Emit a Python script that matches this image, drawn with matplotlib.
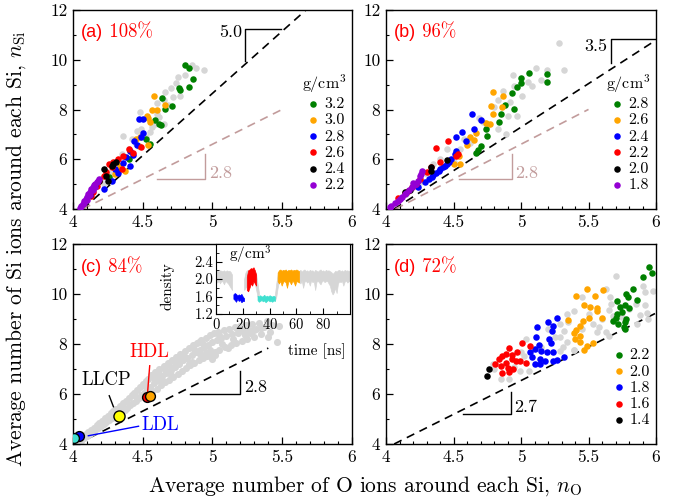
import matplotlib
matplotlib.use('Agg')
import matplotlib.pyplot as plt
from matplotlib.ticker import MultipleLocator, FuncFormatter

plt.rcParams['font.family'] = ['cmr10', 'DejaVu Serif']
plt.rcParams['mathtext.fontset'] = 'cm'
plt.rcParams['axes.formatter.use_mathtext'] = True
plt.rcParams['axes.unicode_minus'] = False

# ---------------- colours ----------------
GREEN, ORANGE, BLUE, RED, BLACK, PURPLE = '#008000', '#ffa500', '#0000ff', '#ff0000', '#000000', '#9400d3'
GRAY = '#d6d6d6'
CYAN = '#40e0d0'
YELLOW = '#ffff00'
BROWN = '#c29c9c'

# ---------------- panel (a) ----------------
a_gray_x = [4.94, 4.88, 4.85, 4.74, 4.70, 4.77, 4.72, 4.66, 4.65, 4.60, 4.48, 4.49, 4.36, 4.46, 4.42, 4.59, 4.65, 4.60,
            4.55, 4.52, 4.40, 4.35, 4.30, 4.25, 4.20, 4.15, 4.10, 4.68, 4.62, 4.57, 4.45, 4.33, 4.28, 4.22, 4.75, 4.80]
a_gray_y = [9.60, 9.67, 9.80, 9.07, 8.87, 8.53, 8.49, 8.71, 8.40, 8.27, 7.89, 7.20, 6.93, 7.13, 6.80, 7.40, 7.40, 7.80,
            7.10, 6.90, 6.40, 6.20, 5.90, 5.50, 5.20, 4.90, 4.50, 8.20, 7.70, 7.30, 6.60, 5.70, 5.40, 5.00, 9.30, 9.40]
a_labels = ['3.2', '3.0', '2.8', '2.6', '2.4', '2.2']
a_x_32 = [4.80, 4.83, 4.86, 4.83, 4.76, 4.77, 4.64, 4.71, 4.66, 4.59, 4.62, 4.63, 4.52, 4.55, 4.40, 4.31, 4.26]
a_y_32 = [9.79, 9.67, 9.24, 8.91, 8.87, 8.77, 8.47, 8.16, 8.03, 7.57, 7.40, 7.36, 6.83, 6.60, 6.00, 5.55, 5.30]
a_x_30 = [4.58, 4.66, 4.60, 4.57, 4.53, 4.55, 4.54, 4.48, 4.54, 4.47, 4.41, 4.37, 4.34, 4.30, 4.45]
a_y_30 = [8.56, 8.20, 8.00, 7.97, 7.73, 7.50, 7.64, 6.89, 6.57, 6.53, 6.33, 5.53, 5.73, 5.40, 6.80]
a_x_28 = [4.47, 4.50, 4.50, 4.49, 4.44, 4.46, 4.41, 4.43, 4.41, 4.36, 4.32, 4.28, 4.22, 4.38, 4.30]
a_y_28 = [7.60, 7.60, 7.07, 6.91, 6.73, 6.56, 6.33, 6.16, 5.73, 5.84, 5.44, 5.13, 4.80, 6.10, 5.60]
a_x_26 = [4.49, 4.43, 4.40, 4.36, 4.32, 4.29, 4.28, 4.35, 4.24, 4.22, 4.19, 4.17, 4.14, 4.13, 4.26]
a_y_26 = [6.49, 6.27, 6.43, 6.13, 6.00, 5.87, 5.67, 5.60, 5.47, 5.33, 5.13, 4.93, 4.67, 4.53, 5.80]
a_x_24 = [4.22, 4.28, 4.29, 4.24, 4.25, 4.19, 4.31, 4.16, 4.12]
a_y_24 = [5.60, 5.73, 5.80, 5.33, 5.13, 5.13, 5.87, 4.95, 4.55]
a_x_22 = [4.05, 4.06, 4.07, 4.08, 4.09, 4.10, 4.11, 4.12, 4.13, 4.14, 4.15, 4.16, 4.17, 4.18, 4.19, 4.08, 4.10, 4.12, 4.14, 4.16]
a_y_22 = [4.05, 4.13, 4.22, 4.33, 4.40, 4.47, 4.60, 4.68, 4.80, 4.87, 4.95, 5.00, 5.10, 5.13, 5.20, 4.25, 4.38, 4.55, 4.75, 4.90]

# ---------------- panel (b) ----------------
b_gray_x = [5.28, 5.32, 5.11, 5.19, 5.08, 5.01, 4.94, 4.95, 4.87, 4.83, 4.90, 4.97, 4.83, 4.89, 4.75, 4.69, 4.62, 4.50,
            4.55, 5.15, 5.05, 4.92, 4.80, 4.72, 4.58, 4.45, 4.40, 4.35, 4.30, 4.25, 4.20, 4.15, 4.10]
b_gray_y = [10.67, 9.60, 9.67, 9.60, 8.93, 8.53, 9.40, 8.96, 8.73, 8.40, 7.73, 7.73, 7.20, 7.00, 7.33, 7.67, 6.67, 5.87,
            6.40, 9.20, 9.10, 8.30, 8.10, 7.50, 6.80, 6.40, 6.00, 5.80, 5.40, 5.10, 4.90, 4.60, 4.40]
b_labels = ['2.8', '2.6', '2.4', '2.2', '2.0', '1.8']
b_x_28 = [5.06, 5.00, 5.00, 4.97, 4.93, 5.19, 5.19, 4.88, 4.95, 4.85, 4.84, 4.74, 4.75, 4.70, 4.68, 4.67]
b_y_28 = [9.47, 9.27, 9.07, 8.91, 8.67, 9.44, 9.09, 8.20, 8.03, 7.80, 7.49, 7.20, 6.93, 6.53, 6.37, 6.27]
b_x_26 = [4.79, 4.87, 4.78, 4.86, 4.79, 4.74, 4.77, 4.67, 4.65, 4.60, 4.54, 4.55, 4.50, 4.62]
b_y_26 = [8.69, 8.53, 8.16, 8.11, 7.80, 7.47, 7.43, 7.07, 6.77, 6.57, 6.13, 5.80, 5.80, 6.90]
b_x_24 = [4.64, 4.70, 4.65, 4.56, 4.52, 4.59, 4.52, 4.51, 4.44, 4.42, 4.39, 4.34, 4.29, 4.24, 4.47, 4.37, 4.32, 4.40, 4.45, 4.35, 4.48]
b_y_24 = [7.80, 7.57, 7.20, 7.09, 6.89, 6.73, 6.33, 6.20, 5.73, 5.67, 5.53, 5.27, 5.07, 4.87, 5.90, 5.45, 5.20, 5.60, 5.80, 5.35, 6.00]
b_x_22 = [4.46, 4.37, 4.53, 4.52, 4.40, 4.30, 4.25, 4.19, 4.16, 4.14, 4.09, 4.33, 4.22]
b_y_22 = [6.73, 6.47, 6.23, 6.13, 5.87, 5.47, 5.20, 4.87, 4.73, 4.64, 4.43, 5.70, 5.00]
b_x_20 = [4.45, 4.33, 4.33, 4.18, 4.14]
b_y_20 = [5.97, 5.67, 5.53, 4.77, 4.67]
b_x_18 = [4.27, 4.25, 4.24, 4.22, 4.19, 4.17, 4.14, 4.12, 4.09, 4.07, 4.04, 4.03, 4.21, 4.15, 4.10, 4.26, 4.20]
b_y_18 = [5.53, 5.33, 5.13, 5.00, 4.87, 4.77, 4.60, 4.47, 4.33, 4.24, 4.13, 4.07, 4.95, 4.65, 4.40, 5.40, 5.05]

# ---------------- panel (c) ----------------
c_gray_x = [4.03, 4.04, 4.05, 4.06, 4.07, 4.08, 4.09, 4.10, 4.11, 4.12, 4.13, 4.14, 4.15, 4.16, 4.17, 4.18, 4.19,
            4.20, 4.21, 4.22, 4.23, 4.24, 4.25, 4.26, 4.27, 4.28, 4.29, 4.30, 4.31, 4.32, 4.34, 4.35, 4.36, 4.37,
            4.38, 4.39, 4.40, 4.41, 4.42, 4.43, 4.44, 4.45, 4.46, 4.47, 4.48, 4.49, 4.50, 4.51, 4.52, 4.53, 4.54,
            4.55, 4.56, 4.57, 4.58, 4.59, 4.60, 4.61, 4.62, 4.63, 4.64, 4.65, 4.66, 4.67, 4.68, 4.69, 4.70, 4.71,
            4.72, 4.73, 4.74, 4.75, 4.76, 4.77, 4.78, 4.79, 4.80, 4.81, 4.82, 4.83, 4.84, 4.85, 4.86, 4.87, 4.88,
            4.89, 4.90, 4.91, 4.92, 4.93, 4.94, 4.95, 4.96, 4.97, 4.98, 4.99, 5.00, 5.01, 5.02, 5.03, 5.04, 5.05,
            5.06, 5.08, 5.09, 5.10, 5.12, 5.13, 5.14, 5.16, 5.17, 5.18, 5.20, 5.21, 5.22, 5.24, 5.25, 5.26, 5.28,
            5.30, 5.31, 5.33, 5.35, 5.37, 5.39, 5.41, 5.43, 5.46, 5.48,
            4.58, 4.66, 4.73, 4.80, 4.87, 4.93, 5.00, 5.07, 5.15, 5.23, 4.70, 4.85, 4.95, 5.05, 5.18, 5.30, 4.62,
            4.76, 4.90, 5.11, 4.52, 4.44, 4.36, 4.28, 4.98, 5.02, 4.91, 4.83, 4.69, 4.64, 5.27, 5.35, 5.40, 4.55]
c_gray_y = [4.08, 4.15, 4.22, 4.12, 4.30, 4.24, 4.38, 4.31, 4.47, 4.40, 4.55, 4.48, 4.63, 4.56, 4.74, 4.62, 4.83,
            4.70, 4.91, 4.78, 5.02, 4.88, 5.12, 4.95, 5.22, 5.05, 5.33, 5.12, 5.41, 5.20, 5.50, 5.28, 5.62, 5.36,
            5.70, 5.45, 5.82, 5.55, 5.95, 5.63, 6.05, 5.72, 6.15, 5.85, 6.28, 5.95, 6.40, 6.05, 6.52, 6.20, 6.62,
            6.30, 6.75, 6.10, 6.45, 6.88, 6.22, 6.58, 7.00, 6.35, 6.72, 7.12, 6.48, 6.85, 7.25, 6.58, 6.98, 7.38,
            6.70, 7.10, 7.50, 6.82, 7.22, 7.62, 6.92, 7.35, 7.72, 7.05, 7.45, 7.85, 7.15, 7.58, 7.95, 7.25, 7.68,
            8.05, 7.35, 7.78, 8.15, 7.45, 7.88, 8.25, 7.52, 7.98, 8.35, 7.62, 8.08, 8.45, 7.70, 8.15, 8.50, 7.78,
            8.25, 8.58, 7.88, 8.32, 8.62, 7.95, 8.40, 8.68, 8.05, 8.45, 8.72, 8.12, 8.52, 8.78, 8.20, 8.58, 8.82,
            8.30, 8.62, 8.85, 8.40, 8.70, 8.92, 8.50, 8.78, 8.08, 8.72,
            6.65, 6.95, 7.30, 7.50, 7.80, 8.00, 7.40, 8.00, 8.20, 8.35, 6.75, 7.30, 7.65, 8.35, 8.55, 8.55, 6.80,
            7.40, 8.10, 7.85, 6.30, 5.95, 5.45, 5.20, 7.75, 7.55, 7.60, 7.20, 7.15, 6.55, 8.45, 8.65, 8.30, 6.10]
c_state_x = [4.04, 4.01, 4.33, 4.53, 4.55]
c_state_y = [4.30, 4.23, 5.13, 5.89, 5.93]
c_state_colors = [BLUE, CYAN, YELLOW, RED, ORANGE]

# inset time series (time in ns, density band lower/upper edge)
ts_gray_t1 = [0, 1, 2, 3, 4, 5, 6, 7, 8, 9, 10, 11, 12]
ts_gray_hi1 = [2.18, 2.20, 2.17, 2.20, 2.19, 2.18, 2.20, 2.17, 2.20, 2.18, 2.19, 2.16, 2.10]
ts_gray_lo1 = [1.95, 1.92, 1.97, 1.90, 1.96, 1.94, 1.88, 1.96, 1.93, 1.90, 1.85, 1.80, 1.75]
ts_gray_t2 = [21, 22, 23, 24]
ts_gray_hi2 = [2.00, 2.15, 2.20, 2.20]
ts_gray_lo2 = [1.75, 1.80, 1.85, 1.90]
ts_gray_t3 = [29, 30, 31, 32]
ts_gray_hi3 = [2.20, 2.10, 1.90, 1.70]
ts_gray_lo3 = [1.90, 1.75, 1.60, 1.55]
ts_gray_t4 = [44, 45, 46, 47]
ts_gray_hi4 = [1.65, 1.90, 2.10, 2.20]
ts_gray_lo4 = [1.50, 1.60, 1.80, 1.95]
ts_gray_t5 = [62, 63, 64, 65, 66, 67, 68, 69, 70, 71, 72, 73, 74, 75, 76, 77, 78, 79, 80, 81, 82, 83, 84, 85, 86,
              87, 88, 89, 90, 91, 92, 93, 94, 95, 96, 97, 98, 99, 100]
ts_gray_hi5 = [2.18, 2.21, 2.17, 2.20, 2.22, 2.18, 2.20, 2.17, 2.21, 2.19, 2.20, 2.16, 2.21, 2.19, 2.17, 2.20, 2.22,
               2.18, 2.20, 2.17, 2.21, 2.19, 2.20, 2.18, 2.16, 2.12, 2.15, 2.19, 2.17, 2.20, 2.21, 2.18, 2.20, 2.17,
               2.21, 2.19, 2.20, 2.18, 2.20]
ts_gray_lo5 = [1.95, 1.90, 1.97, 1.80, 1.94, 1.96, 1.92, 1.95, 1.85, 1.97, 1.93, 1.95, 1.75, 1.94, 1.96, 1.92, 1.88,
               1.95, 1.97, 1.93, 1.95, 1.96, 1.90, 1.85, 1.72, 1.65, 1.70, 1.80, 1.68, 1.90, 1.95, 1.93, 1.96, 1.85,
               1.94, 1.97, 1.92, 1.95, 1.96]
ts_blue_t = [13, 14, 15, 16, 17, 18, 19, 20, 21]
ts_blue_hi = [1.65, 1.68, 1.66, 1.62, 1.65, 1.63, 1.66, 1.60, 1.56]
ts_blue_lo = [1.55, 1.52, 1.48, 1.55, 1.50, 1.52, 1.47, 1.50, 1.50]
ts_red_t = [23, 24, 25, 26, 27, 28, 29, 30]
ts_red_hi = [2.05, 2.20, 2.22, 2.25, 2.24, 2.27, 2.20, 2.10]
ts_red_lo = [1.75, 1.72, 1.80, 1.90, 1.85, 1.95, 1.90, 1.85]
ts_cyan_t = [31, 32, 33, 34, 35, 36, 37, 38, 39, 40, 41, 42, 43, 44]
ts_cyan_hi = [1.62, 1.60, 1.63, 1.60, 1.61, 1.64, 1.60, 1.62, 1.60, 1.63, 1.61, 1.60, 1.62, 1.60]
ts_cyan_lo = [1.52, 1.48, 1.50, 1.52, 1.49, 1.51, 1.47, 1.50, 1.52, 1.49, 1.50, 1.48, 1.51, 1.50]
ts_orange_t = [46, 47, 48, 49, 50, 51, 52, 53, 54, 55, 56, 57, 58, 59, 60, 61, 62]
ts_orange_hi = [2.15, 2.20, 2.22, 2.19, 2.21, 2.20, 2.22, 2.18, 2.21, 2.20, 2.22, 2.19, 2.21, 2.20, 2.22, 2.20, 2.18]
ts_orange_lo = [1.95, 1.90, 1.96, 1.85, 1.93, 1.96, 1.92, 1.80, 1.95, 1.94, 1.88, 1.96, 1.93, 1.85, 1.95, 1.94, 1.92]

# ---------------- panel (d) ----------------
d_gray_x = [5.70, 5.63, 5.98, 5.90, 5.92, 5.92, 5.93, 5.88, 5.94, 5.66, 5.67, 5.65, 5.68, 5.63, 5.58, 5.53, 5.56,
            5.45, 5.39, 5.34, 5.29, 5.32, 5.29, 5.34, 5.31, 5.39, 5.04, 4.99, 5.06, 4.91, 4.85, 4.80, 4.79, 5.02,
            5.29, 5.39, 5.65, 5.86, 5.60, 5.50, 5.25, 5.15, 5.00, 4.95, 5.85, 5.80, 5.75, 5.45, 5.35, 5.20]
d_gray_y = [10.71, 10.20, 10.13, 10.33, 10.07, 9.57, 9.23, 9.17, 9.00, 9.87, 9.60, 9.36, 9.13, 8.47, 8.67, 8.80, 8.47,
            9.87, 9.33, 9.20, 8.80, 8.53, 8.27, 8.07, 7.87, 7.76, 8.20, 6.93, 6.93, 6.60, 6.60, 7.00, 7.20, 7.53,
            7.73, 7.76, 8.33, 8.80, 9.00, 9.20, 8.30, 7.90, 7.70, 7.10, 9.60, 9.40, 9.10, 8.60, 8.90, 8.60]
d_labels = ['2.2', '2.0', '1.8', '1.6', '1.4']
d_x_22 = [5.95, 5.97, 5.90, 5.83, 5.78, 5.79, 5.86, 5.71, 5.77, 5.73, 5.80, 5.75, 5.71, 5.70, 5.78, 5.77, 5.72, 5.76, 5.77, 5.68]
d_y_22 = [11.09, 10.83, 10.67, 10.20, 10.00, 9.89, 9.76, 9.71, 9.57, 9.49, 9.44, 9.27, 9.20, 9.04, 9.00, 8.87, 8.80, 8.67, 8.60, 8.93]
d_x_20 = [5.49, 5.61, 5.55, 5.41, 5.47, 5.51, 5.56, 5.56, 5.60, 5.50, 5.35, 5.46, 5.44, 5.41, 5.39, 5.44, 5.40, 5.44, 5.49, 5.53, 5.47]
d_y_20 = [10.20, 10.16, 9.93, 9.93, 9.57, 9.47, 9.44, 9.33, 9.04, 9.04, 8.97, 8.93, 8.73, 8.56, 8.43, 8.33, 8.20, 8.07, 7.93, 8.03, 7.76]
d_x_18 = [5.27, 5.20, 5.24, 5.12, 5.23, 5.21, 5.11, 5.22, 5.13, 5.10, 5.15, 5.07, 5.19, 5.24, 5.08, 5.14, 5.18, 5.24, 5.27, 5.32, 5.10, 5.14]
d_y_18 = [9.04, 8.87, 8.73, 8.69, 8.51, 8.20, 8.27, 8.03, 7.97, 7.80, 7.73, 7.67, 7.67, 7.67, 7.47, 7.40, 7.33, 7.33, 7.36, 7.47, 7.20, 7.20]
d_x_16 = [5.01, 4.91, 5.07, 4.97, 4.89, 4.93, 4.86, 4.93, 4.84, 4.96, 4.89, 4.99, 4.81, 4.85, 4.90, 4.94, 4.86, 4.91, 5.04]
d_y_16 = [8.03, 7.84, 7.93, 7.69, 7.60, 7.57, 7.53, 7.40, 7.40, 7.33, 7.23, 7.31, 7.20, 7.13, 7.04, 7.00, 6.83, 6.87, 7.23]
d_x_14 = [4.76, 4.75]
d_y_14 = [7.00, 6.73]

PAL6 = [GREEN, ORANGE, BLUE, RED, BLACK, PURPLE]

fig = plt.figure(figsize=(6.77, 5.03), dpi=100)
ax_a = fig.add_axes([0.1078, 0.5845, 0.4121, 0.3956])
ax_b = fig.add_axes([0.5702, 0.5845, 0.3988, 0.3956])
ax_c = fig.add_axes([0.1078, 0.1173, 0.4121, 0.3976])
ax_d = fig.add_axes([0.5702, 0.1173, 0.3988, 0.3976])

fmt = FuncFormatter(lambda v, p: '%g' % v)
for ax in (ax_a, ax_b, ax_c, ax_d):
    ax.set_xlim(4, 6)
    ax.set_ylim(4, 12)
    ax.xaxis.set_major_locator(MultipleLocator(0.5))
    ax.xaxis.set_minor_locator(MultipleLocator(0.1))
    ax.yaxis.set_major_locator(MultipleLocator(2))
    ax.yaxis.set_minor_locator(MultipleLocator(1))
    ax.xaxis.set_major_formatter(fmt)
    ax.yaxis.set_major_formatter(fmt)
    ax.tick_params(which='both', direction='in', top=False, right=False, labelsize=12.5, pad=4)
    ax.tick_params(which='major', length=5, width=0.9)
    ax.tick_params(which='minor', length=2.5, width=0.8)
    for s in ax.spines.values():
        s.set_linewidth(1.0)

MS = 22


def dashed(ax, slope, x0, x1, color='k'):
    ax.plot([x0, x1], [4, 4 + slope * (x1 - x0)], color=color, lw=1.2, ls=(0, (5, 3.5)), zorder=1)


def scatter_set(ax, xs, ys, cols, labels):
    for x, y, c, l in zip(xs, ys, cols, labels):
        ax.scatter(x, y, s=MS, color=c, lw=0, zorder=3, label=l)


def panel_label(ax, letter, pct, x, y):
    t = ax.text(x, y, letter, transform=ax.transAxes, color='red', fontsize=13,
                family='Liberation Sans', va='baseline', ha='left')
    ax.annotate(' ' + pct, xy=(1, 0), xycoords=t, va='bottom', ha='left', color='red', fontsize=13.5)


# ---- (a)
ax_a.scatter(a_gray_x, a_gray_y, s=MS, color=GRAY, lw=0, zorder=2)
dashed(ax_a, 5.0, 4.07, 5.67)
dashed(ax_a, 2.8, 4.07, 5.50, BROWN)
scatter_set(ax_a, [a_x_32, a_x_30, a_x_28, a_x_26, a_x_24, a_x_22],
            [a_y_32, a_y_30, a_y_28, a_y_26, a_y_24, a_y_22], PAL6, a_labels)
ax_a.plot([5.235, 5.235, 5.49], [9.96, 11.23, 11.23], color='k', lw=1.0)
ax_a.text(5.21, 11.1, '5.0', ha='right', va='center', fontsize=13)
ax_a.plot([4.60, 4.947, 4.947], [5.2, 5.2, 6.21], color=BROWN, lw=1.0)
ax_a.text(4.975, 5.45, '2.8', ha='left', va='center', fontsize=13, color=BROWN)
panel_label(ax_a, '(a)', '108%', 0.028, 0.865)

# ---- (b)
ax_b.scatter(b_gray_x, b_gray_y, s=MS, color=GRAY, lw=0, zorder=2)
dashed(ax_b, 3.5, 4.06, 6.0)
dashed(ax_b, 2.8, 4.07, 5.50, BROWN)
scatter_set(ax_b, [b_x_28, b_x_26, b_x_24, b_x_22, b_x_20, b_x_18],
            [b_y_28, b_y_26, b_y_24, b_y_22, b_y_20, b_y_18], PAL6, b_labels)
ax_b.plot([5.668, 5.668, 5.99], [9.87, 10.83, 10.83], color='k', lw=1.0)
ax_b.text(5.64, 10.55, '3.5', ha='right', va='center', fontsize=13)
ax_b.plot([4.54, 4.93, 4.93], [5.2, 5.2, 6.2], color=BROWN, lw=1.0)
ax_b.text(4.955, 5.45, '2.8', ha='left', va='center', fontsize=13, color=BROWN)
panel_label(ax_b, '(b)', '96%', 0.03, 0.865)

for ax in (ax_a, ax_b):
    ax.legend(loc='lower right', bbox_to_anchor=(1.02, 0.03), frameon=False, fontsize=11.5,
              title='g/cm$^3$', title_fontsize=11.5, handletextpad=0.1, labelspacing=0.12,
              borderpad=0.2, handlelength=1.2, scatterpoints=1)

# ---- (c)
ax_c.scatter(c_gray_x, c_gray_y, s=MS + 4, color=GRAY, lw=0, zorder=2)
dashed(ax_c, 2.8, 4.03, 5.40)
ax_c.plot([4.84, 5.20, 5.20], [6.0, 6.0, 6.93], color='k', lw=1.0)
ax_c.text(5.225, 6.27, '2.8', ha='left', va='center', fontsize=13)
sizes = [50, 50, 64, 50, 50]
for x, y, c, s in zip(c_state_x, c_state_y, c_state_colors, sizes):
    ax_c.scatter(x, y, s=s, color=c, edgecolor='k', lw=1.0, zorder=5)
ax_c.plot([4.55, 4.535], [7.13, 6.07], color='red', lw=1.0)
ax_c.text(4.55, 7.67, 'HDL', color='red', ha='center', va='center', fontsize=13.5)
ax_c.plot([4.26, 4.29], [5.93, 5.49], color='k', lw=1.0)
ax_c.text(4.24, 6.55, 'LLCP', color='k', ha='center', va='center', fontsize=13.5)
ax_c.plot([4.47, 4.11], [4.71, 4.33], color='blue', lw=1.0)
ax_c.text(4.49, 4.75, 'LDL', color='blue', ha='left', va='center', fontsize=13.5)
panel_label(ax_c, '(c)', '84%', 0.03, 0.86)

# inset
ax_in = fig.add_axes([0.319, 0.3757, 0.198, 0.139])
ax_in.set_xlim(0, 100)
ax_in.set_ylim(1.2, 2.8)
for t, lo, hi, c in [(ts_gray_t1, ts_gray_lo1, ts_gray_hi1, GRAY), (ts_gray_t2, ts_gray_lo2, ts_gray_hi2, GRAY),
                     (ts_gray_t3, ts_gray_lo3, ts_gray_hi3, GRAY), (ts_gray_t4, ts_gray_lo4, ts_gray_hi4, GRAY),
                     (ts_gray_t5, ts_gray_lo5, ts_gray_hi5, GRAY), (ts_blue_t, ts_blue_lo, ts_blue_hi, BLUE),
                     (ts_red_t, ts_red_lo, ts_red_hi, RED), (ts_cyan_t, ts_cyan_lo, ts_cyan_hi, CYAN),
                     (ts_orange_t, ts_orange_lo, ts_orange_hi, ORANGE)]:
    ax_in.fill_between(t, lo, hi, color=c, lw=0.5, edgecolor=c)
ax_in.set_xticks([0, 20, 40, 60, 80])
ax_in.set_yticks([1.2, 1.6, 2.0, 2.4])
ax_in.xaxis.set_minor_locator(MultipleLocator(10))
ax_in.yaxis.set_minor_locator(MultipleLocator(0.2))
ax_in.yaxis.set_major_formatter(FuncFormatter(lambda v, p: '%.1f' % v))
ax_in.tick_params(which='both', direction='in', labelsize=10.5, pad=2)
ax_in.tick_params(which='major', length=4)
ax_in.tick_params(which='minor', length=2)
ax_in.set_xlabel('time [ns]', fontsize=11, labelpad=0)
ax_in.xaxis.set_label_coords(0.75, -0.42)
ax_in.set_ylabel('density', fontsize=11, labelpad=1)
ax_in.yaxis.set_label_coords(-0.31, 0.40)
ax_in.text(0.1, 0.84, 'g/cm$^3$', transform=ax_in.transAxes, fontsize=11, va='center', ha='left')

# ---- (d)
ax_d.scatter(d_gray_x, d_gray_y, s=MS, color=GRAY, lw=0, zorder=2)
dashed(ax_d, 2.7, 4.06, 6.0)
scatter_set(ax_d, [d_x_22, d_x_20, d_x_18, d_x_16, d_x_14],
            [d_y_22, d_y_20, d_y_18, d_y_16, d_y_14], [GREEN, ORANGE, BLUE, RED, BLACK], d_labels)
ax_d.plot([4.57, 4.925, 4.925], [5.2, 5.2, 6.07], color='k', lw=1.0)
ax_d.text(4.95, 5.47, '2.7', ha='left', va='center', fontsize=13)
ax_d.legend(loc='lower right', bbox_to_anchor=(1.02, 0.03), frameon=False, fontsize=11.5,
            handletextpad=0.1, labelspacing=0.12, borderpad=0.2, handlelength=1.2, scatterpoints=1)
panel_label(ax_d, '(d)', '72%', 0.03, 0.86)

fig.text(0.539, 0.033, 'Average number of O ions around each Si, $n_{\\rm O}$', ha='center', va='center', fontsize=15.5)
fig.text(0.024, 0.505, 'Average number of Si ions around each Si, $n_{\\rm Si}$', ha='center', va='center',
         rotation=90, fontsize=15.5)

fig.savefig('out.png', dpi=100)
